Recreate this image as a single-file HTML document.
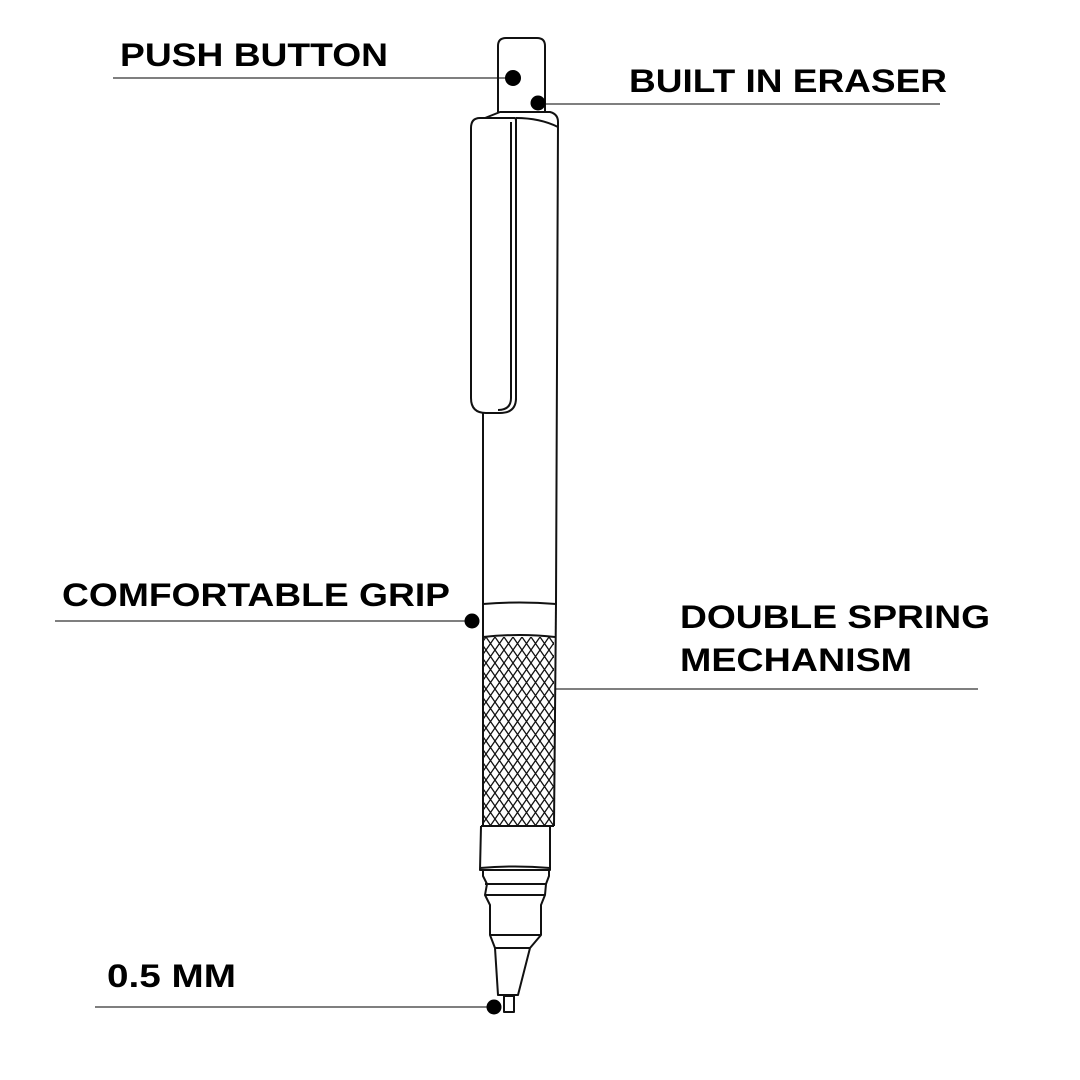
<!DOCTYPE html>
<html><head><style>html,body{margin:0;padding:0;background:#fff}svg{display:block}</style></head>
<body>
<svg width="1080" height="1080" viewBox="0 0 1080 1080" xmlns="http://www.w3.org/2000/svg">
<defs>
<pattern id="kn" width="9" height="13" patternUnits="userSpaceOnUse">
<path d="M0 0 L9 13 M9 0 L0 13" stroke="#111" stroke-width="1.3" fill="none"/>
</pattern>
<clipPath id="kc"><rect x="483" y="637" width="71" height="189"/></clipPath>
</defs>
<g font-family="Liberation Sans, sans-serif" font-weight="bold" font-size="32" fill="#000">
<text x="120" y="66" textLength="268" lengthAdjust="spacingAndGlyphs">PUSH BUTTON</text>
<text x="629" y="92" textLength="318" lengthAdjust="spacingAndGlyphs">BUILT IN ERASER</text>
<text x="62" y="606" textLength="388" lengthAdjust="spacingAndGlyphs">COMFORTABLE GRIP</text>
<text x="680" y="628" textLength="310" lengthAdjust="spacingAndGlyphs">DOUBLE SPRING</text>
<text x="680" y="671" textLength="232" lengthAdjust="spacingAndGlyphs">MECHANISM</text>
<text x="107" y="987" textLength="129" lengthAdjust="spacingAndGlyphs">0.5 MM</text>
</g>
<g stroke="#555" stroke-width="1.4">
<line x1="113" y1="78" x2="513" y2="78"/>
<line x1="538" y1="104" x2="940" y2="104"/>
<line x1="55" y1="621" x2="472" y2="621"/>
<line x1="555" y1="689" x2="978" y2="689"/>
<line x1="95" y1="1007" x2="494" y2="1007"/>
</g>
<g fill="none" stroke="#111" stroke-width="2" stroke-linejoin="round">
<path d="M498 112 L498 46 Q498 38 506 38 L537 38 Q545 38 545 46 L545 112"/>
<path d="M485 118 L500 112 L550 112 Q558 114 558 122 L556 603"/>
<path d="M516 118 Q540 118 558 127"/>
<line x1="516" y1="118" x2="516" y2="400"/>
<path d="M480 118 L515 118 Q516 118 516 122 L516 398 Q516 413 500 413 L486 413 Q471 413 471 398 L471 128 Q471 118 480 118 Z"/>
<path d="M511 122 L511 398 Q511 410 498 410"/>
<line x1="483" y1="413" x2="483" y2="826"/>
<line x1="556" y1="603" x2="554" y2="826"/>
<path d="M483 604 Q520 601 556 604"/>
<path d="M483 637 Q520 633 555 637"/>
<rect x="483" y="637" width="71" height="189" fill="url(#kn)" stroke="none" clip-path="url(#kc)"/>
<line x1="481" y1="826" x2="554" y2="826"/>
<path d="M481 826 L480 870 L550 870 L550 826"/>
<path d="M480 868 Q515 865 550 868"/>
<path d="M483 870 L483 876 L487 884 L485 895 L490 905 L490 935 L495 948 L498 995 L518 995 L530 948 L541 935 L541 905 L545 895 L546 884 L549 876 L549 870"/>
<line x1="485" y1="884" x2="546" y2="884"/>
<line x1="485" y1="895" x2="545" y2="895"/>
<line x1="490" y1="935" x2="541" y2="935"/>
<line x1="495" y1="948" x2="530" y2="948"/>
<rect x="504" y="996" width="10" height="16"/>
</g>
<g fill="#000">
<circle cx="513" cy="78" r="8"/>
<circle cx="538" cy="103" r="7.5"/>
<circle cx="472" cy="621" r="7.5"/>
<circle cx="494" cy="1007" r="7.5"/>
</g>
</svg>
</body></html>
